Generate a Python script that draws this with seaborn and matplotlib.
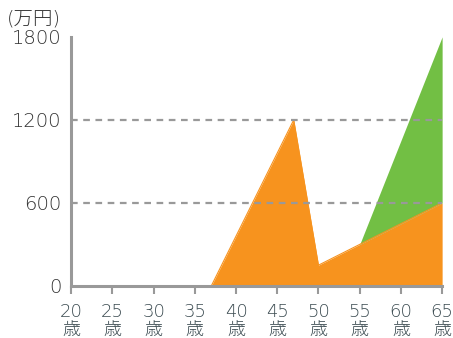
import numpy as np
import matplotlib.pyplot as plt
import pandas as pd
import seaborn as sns

# orange: income by age
ages = [20, 37, 47, 50, 55, 65]
income = [0, 0, 1200, 150, 300, 600]
# green: extra on top of orange from 55 on
green_ages = [55, 65]
green_base = [300, 600]
green_top = [300, 1800]

x_ticks = [20, 25, 30, 35, 40, 45, 50, 55, 60, 65]
x_labels = [f"{a}\n歳" for a in x_ticks]
y_ticks = [0, 600, 1200, 1800]

sns.set_style("white")
plt.rcParams['font.family'] = ['DejaVu Sans', 'Noto Sans CJK JP']
plt.rcParams['font.weight'] = 'light'

fig = plt.figure(figsize=(4.53, 3.38), dpi=100)
ax = fig.add_axes([0.157, 0.154, 0.819, 0.737])

df = pd.DataFrame({'age': ages, 'income': income})
sns.lineplot(x='age', y='income', data=df, ax=ax, color='#F7931E', linewidth=0.8, zorder=2.5)
ax.fill_between(ages, 0, income, color='#F7931E', linewidth=0, zorder=2)
ax.fill_between(green_ages, green_base, green_top, color='#72BF44', linewidth=0, zorder=2)

for v in [600, 1200]:
    ax.axhline(v, color='#999999', linestyle=(0, (3, 2.5)), linewidth=1.6, zorder=3)

ax.set_xlim(20, 65)
ax.set_ylim(0, 1800)
ax.set_xticks(x_ticks)
ax.set_xticklabels(x_labels, fontsize=13, color='#3a4a50', linespacing=0.95)
ax.set_yticks(y_ticks)
ax.set_yticklabels([str(v) for v in y_ticks], fontsize=14, color='#333333')
ax.set_xlabel('')
ax.set_ylabel('')

for s in ['top', 'right']:
    ax.spines[s].set_visible(False)
for s in ['left', 'bottom']:
    ax.spines[s].set_color('#999999')
    ax.spines[s].set_linewidth(2.2)
    ax.spines[s].set_zorder(4)

ax.tick_params(axis='x', length=5.5, width=1.5, color='#999999', pad=7, bottom=True)
ax.tick_params(axis='y', length=0, pad=7)

fig.text(0.015, 0.945, '(万円)', fontsize=14, color='#333333', ha='left', va='center')

plt.savefig('out.png', dpi=100)
